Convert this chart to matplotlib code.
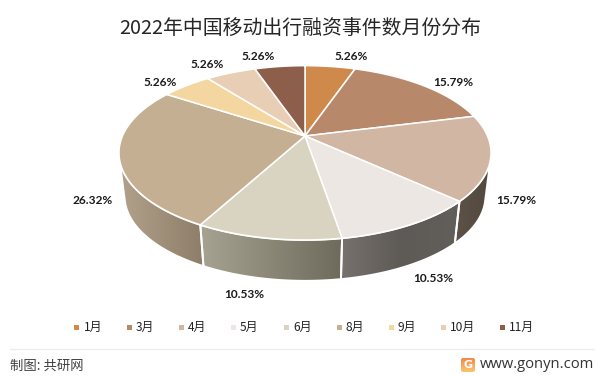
import numpy as np
import matplotlib
matplotlib.use('Agg')
import matplotlib.pyplot as plt
from matplotlib.patches import Polygon, Rectangle, FancyBboxPatch
from matplotlib.colors import LinearSegmentedColormap

plt.rcParams['font.family'] = ['Noto Sans CJK SC', 'DejaVu Sans']

months = ['1月', '3月', '4月', '5月', '6月', '8月', '9月', '10月', '11月']
shares = [5.26, 15.79, 15.79, 10.53, 10.53, 26.32, 5.26, 5.26, 5.26]
colors = ['#CF894B', '#B8886B', '#D2B6A4', '#EDE7E3', '#D9D4C2',
          '#C4AF92', '#F4D6A0', '#E9CEB6', '#8D5F4B']

# wall gradients, left to right (only the slices facing the viewer)
walls = {'4月': ['#5E5247', '#53483E'],
         '5月': ['#76716D', '#5E5A56', '#625E5A'],
         '6月': ['#A6A393', '#6E6B5C'],
         '8月': ['#B2A28C', '#8E7D68']}

label_pos = [(351, 56), (453, 82), (516, 200), (433, 279), (244, 295),
             (93, 200), (160, 82), (207, 64), (258, 56)]

# pie geometry in pixels, perspective tilt makes the back smaller
cx, cy = 305, 136
a, b, k = 182.5, 83.9, 0.193
drop, shrink = 44, 0.97


def project(theta):
    X, Y = np.sin(theta), np.cos(theta)
    w = 1 + k * Y
    return cx + a * X / w, cy - b * Y / w


fig = plt.figure(figsize=(5.99, 3.77), dpi=100)
ax = fig.add_axes([0, 0, 1, 1])

edges = np.cumsum([0] + shares) / sum(shares) * 2 * np.pi

# walls first, then top faces over them
for i, m in enumerate(months):
    if m not in walls:
        continue
    t = np.linspace(edges[i], edges[i + 1], 200)
    x, y = project(t)
    x2 = cx + (x - cx) * shrink
    y2 = cy + drop + (y - cy) * shrink
    # keep only the part of the arc that faces the viewer
    front = np.gradient(x) * (y2 - y) - np.gradient(y) * (x2 - x) < 0
    x, y, x2, y2 = x[front], y[front], x2[front], y2[front]
    pts = np.r_[np.c_[x, y], np.c_[x2[::-1], y2[::-1]]]
    poly = Polygon(pts, closed=True, fc='none', ec='white', lw=1.4, zorder=2)
    ax.add_patch(poly)
    cmap = LinearSegmentedColormap.from_list(m, walls[m])
    grad = np.linspace(0, 1, 128).reshape(1, -1)
    im = ax.imshow(grad, cmap=cmap, aspect='auto', zorder=1,
                   extent=[pts[:, 0].min(), pts[:, 0].max(), pts[:, 1].max(), pts[:, 1].min()])
    clip = Polygon(pts, closed=True, transform=ax.transData)
    im.set_clip_path(clip)

for i, m in enumerate(months):
    t = np.linspace(edges[i], edges[i + 1], 80)
    x, y = project(t)
    pts = np.r_[[[cx, cy]], np.c_[x, y]]
    ax.add_patch(Polygon(pts, closed=True, fc=colors[i], ec='white', lw=1.1,
                         joinstyle='round', zorder=3))

for (px, py), s in zip(label_pos, shares):
    ax.text(px, py, '%.2f%%' % s, ha='center', va='center', fontsize=8.6,
            fontweight='bold', family=['Lato', 'DejaVu Sans'], color='#1A1A1A', zorder=5)

ax.text(300.5, 28, '2022年中国移动出行融资事件数月份分布', ha='center', va='center',
        fontsize=14.3, color='#262626')

# legend
legend_x = [76.5, 129, 181, 233, 286, 339, 391, 443, 502]
for lx, m, c in zip(legend_x, months, colors):
    ax.add_patch(Rectangle((lx - 2.5, 324.5), 5, 5, fc=c, ec='none'))
    ax.text(lx + 7, 327, m, ha='left', va='center', fontsize=8.6, color='#222222')

# footer
ax.plot([10, 594], [349, 349], color='#EBEBEB', lw=1)
ax.text(10, 366, '制图: 共研网', ha='left', va='center', fontsize=9.6, color='#404040')
ax.text(594, 365, 'www.gonyn.com', ha='right', va='center', fontsize=10.6,
        family=['Open Sans', 'DejaVu Sans'], color='#333333')
logo_cmap = LinearSegmentedColormap.from_list('logo', ['#F2884B', '#F8C66D'])
logo = ax.imshow(np.linspace(0, 1, 32).reshape(-1, 1), cmap=logo_cmap, aspect='auto',
                 extent=[461, 475, 372, 358], zorder=4)
box = FancyBboxPatch((461, 358), 14, 14, boxstyle='round,pad=0,rounding_size=2',
                     transform=ax.transData, fc='none', ec='none')
ax.add_patch(box)
logo.set_clip_path(box)
ax.text(468, 365, 'G', ha='center', va='center', fontsize=8, fontweight='bold',
        family=['DejaVu Sans'], color='white', zorder=5)

ax.set_xlim(0, 599)
ax.set_ylim(377, 0)
ax.axis('off')

fig.savefig('out.png', dpi=100, facecolor='white')
